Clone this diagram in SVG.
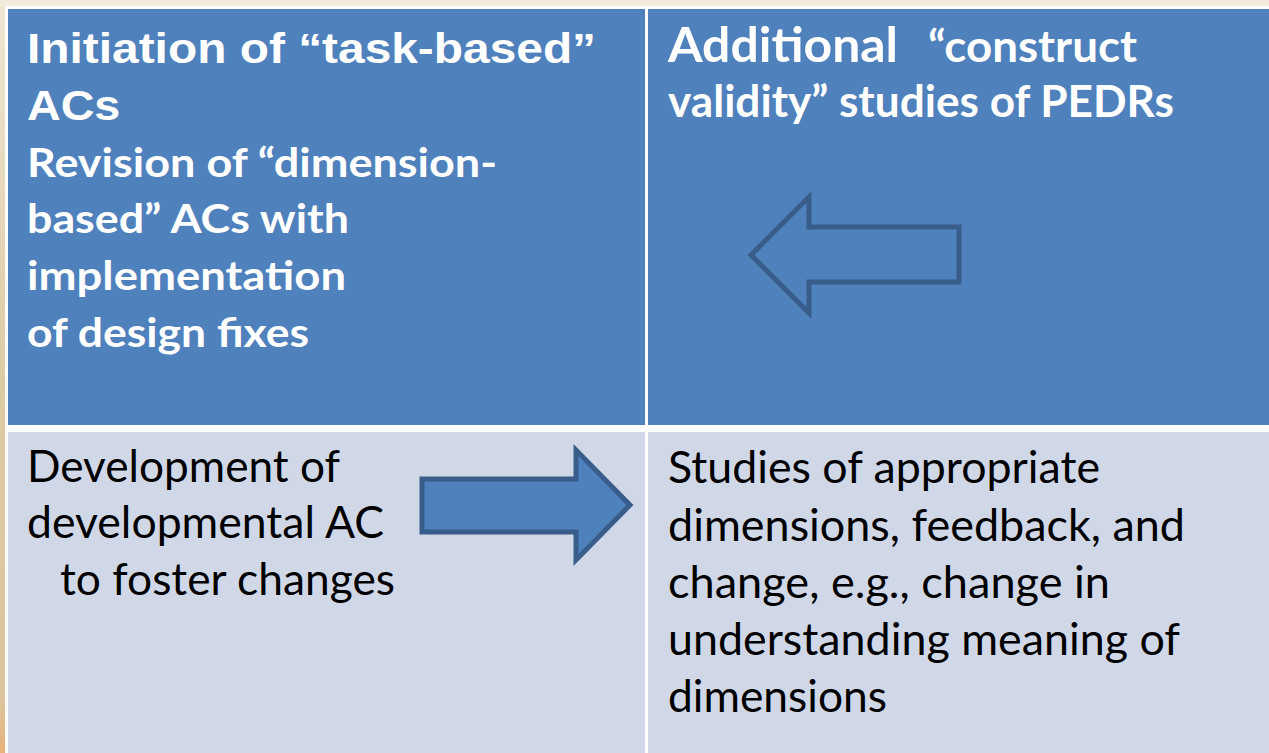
<svg xmlns="http://www.w3.org/2000/svg" width="1269" height="753" viewBox="0 0 1269 753">
<defs>
<linearGradient id="bg" x1="0" y1="0" x2="0" y2="1">
<stop offset="0" stop-color="#EFE6D4"/>
<stop offset="0.5" stop-color="#DCCBA4"/>
<stop offset="0.93" stop-color="#DCC49C"/>
<stop offset="1" stop-color="#E8B27A"/>
</linearGradient>
<style>
.hdr{fill:#4F81BD}
.body{fill:#D0D8E8}
.arrow{stroke:#385D8A;stroke-width:5;stroke-linejoin:miter}
.t1{font-family:"Liberation Sans",Arial,sans-serif;font-weight:bold;fill:#FFFFFF;font-size:42px}
.t2{font-family:Lato,"Open Sans",sans-serif;font-weight:bold;fill:#FFFFFF}
.t3{font-family:Lato,"Open Sans",sans-serif;fill:#000000;font-size:45px}
</style>
</defs>
<rect x="0" y="0" width="1269" height="753" fill="url(#bg)"/>
<rect x="0" y="0" width="1269" height="6" fill="#F3ECDD"/>
<rect x="5" y="6" width="1264" height="747" fill="#FFFFFF"/>
<g id="cell-top-left">
<rect class="hdr" x="8" y="9" width="637" height="416"/>
<text class="t1" transform="translate(27,63) scale(1.14,1)">Initiation of “task-based”</text>
<text class="t1" transform="translate(27,120) scale(1.11,1)">ACs</text>
<text class="t2" font-size="40" x="27" y="177" textLength="470" lengthAdjust="spacingAndGlyphs">Revision of “dimension-</text>
<text class="t2" font-size="40" x="27" y="233" textLength="322" lengthAdjust="spacingAndGlyphs">based” ACs with</text>
<text class="t2" font-size="40" x="27" y="290" textLength="319" lengthAdjust="spacingAndGlyphs">implementation</text>
<text class="t2" font-size="40" x="27" y="347" textLength="282" lengthAdjust="spacingAndGlyphs">of design fixes</text>
</g>
<g id="cell-top-right">
<rect class="hdr" x="648" y="9" width="621" height="416"/>
<text class="t2" font-size="48" x="668" y="62" textLength="230" lengthAdjust="spacingAndGlyphs">Additional</text>
<text class="t2" font-size="43" x="928" y="62" textLength="209" lengthAdjust="spacingAndGlyphs">“construct</text>
<text class="t2" font-size="43" x="668" y="117" textLength="506" lengthAdjust="spacingAndGlyphs">validity” studies of PEDRs</text>
</g>
<g id="cell-bottom-left">
<rect class="body" x="8" y="432" width="637" height="321"/>
<text class="t3" x="27" y="482" textLength="313" lengthAdjust="spacingAndGlyphs">Development of</text>
<text class="t3" x="27" y="538" textLength="357" lengthAdjust="spacingAndGlyphs">developmental AC</text>
<text class="t3" x="60" y="595" textLength="335" lengthAdjust="spacingAndGlyphs">to foster changes</text>
</g>
<g id="cell-bottom-right">
<rect class="body" x="648" y="432" width="621" height="321"/>
<text class="t3" x="668" y="483" textLength="432" lengthAdjust="spacingAndGlyphs">Studies of appropriate</text>
<text class="t3" x="668" y="541" textLength="517" lengthAdjust="spacingAndGlyphs">dimensions, feedback, and</text>
<text class="t3" x="668" y="598" textLength="442" lengthAdjust="spacingAndGlyphs">change, e.g., change in</text>
<text class="t3" x="668" y="655" textLength="512" lengthAdjust="spacingAndGlyphs">understanding meaning of</text>
<text class="t3" x="668" y="712" textLength="219" lengthAdjust="spacingAndGlyphs">dimensions</text>
</g>
<g id="connectors">
<polygon class="arrow" fill="none" points="751,255 809,197 809,227 959,227 959,282 809,282 809,313"/>
<polygon class="arrow" fill="#4F81BD" points="422,479 576,479 576,450 630,505 576,560 576,532 422,532"/>
</g>
</svg>
